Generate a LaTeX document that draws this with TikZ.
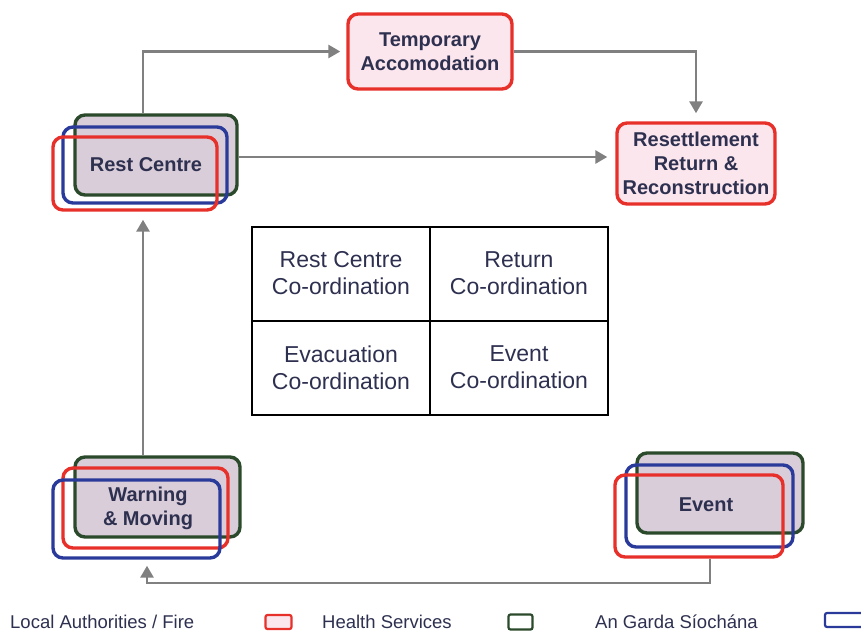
\documentclass[tikz,border=0pt]{standalone}
\usepackage{fontspec}
\setmainfont{Liberation Sans}
\usetikzlibrary{arrows.meta}
\definecolor{rred}{HTML}{E8302A}
\definecolor{ggreen}{HTML}{2B4A2B}
\definecolor{bblue}{HTML}{2A3A9A}
\definecolor{lav}{HTML}{D9CDD9}
\definecolor{pinkf}{HTML}{FBE6EE}
\definecolor{txt}{HTML}{2E3050}
\definecolor{conng}{HTML}{808080}
\tikzset{
  frame/.style={draw, line width=3.4pt, rounded corners=10pt, inner sep=0pt},
  gfr/.style={frame, ggreen, fill=lav},
  bfr/.style={frame, bblue},
  rfr/.style={frame, rred},
  pbox/.style={draw=rred, line width=3.4pt, rounded corners=10pt, fill=pinkf, text=txt, align=center, font=\fontsize{20}{24}\selectfont\bfseries, inner sep=0pt},
  lbl/.style={text=txt, align=center, font=\fontsize{20}{24}\selectfont\bfseries},
  cell/.style={draw=black, line width=2pt, minimum width=178pt, minimum height=94pt, inner sep=0pt, text=txt, align=center, font=\fontsize{23}{27}\selectfont},
  conn/.style={draw=conng, line width=2.8pt, -{Triangle[length=12pt,width=13pt]}},
  leg/.style={text=txt, anchor=base west, font=\fontsize{18.5}{20}\selectfont, inner sep=0pt},
}
\begin{document}
\begin{tikzpicture}[x=1pt,y=-1pt]
\useasboundingbox (0,0) rectangle (861,633);
% Temporary accommodation
\node[pbox, minimum width=164pt, minimum height=75pt] (tmp) at (430,51.5) {Temporary\\Accomodation};
% Resettlement
\node[pbox, minimum width=158pt, minimum height=81pt] (res) at (696,163.5) {Resettlement\\Return \&\\Reconstruction};
% Rest Centre
\node[gfr, minimum width=162pt, minimum height=80pt] (rcg) at (156,155) {};
\node[bfr, minimum width=164pt, minimum height=76pt] (rcb) at (145,165) {};
\node[rfr, minimum width=164pt, minimum height=73pt] (rcr) at (135,173.5) {};
\node[lbl] (rct) at (146,165) {Rest Centre};
% Warning & Moving
\node[gfr, minimum width=165pt, minimum height=80pt] (wmg) at (157.5,497) {};
\node[rfr, minimum width=165pt, minimum height=80pt] (wmr) at (145.5,508) {};
\node[bfr, minimum width=167pt, minimum height=78pt] (wmb) at (136.5,519) {};
\node[lbl] (wmt) at (148,508) {Warning\\\& Moving};
% Event
\node[gfr, minimum width=166pt, minimum height=80pt] (evg) at (720,493) {};
\node[bfr, minimum width=167pt, minimum height=82pt] (evb) at (709.5,506) {};
\node[rfr, minimum width=168pt, minimum height=82pt] (evr) at (699,516) {};
\node[lbl] (evt) at (706,505) {Event};
% Table
\node[cell] (c11) at (341,273.5) {Rest Centre\\Co-ordination};
\node[cell] (c12) at (519,273.5) {Return\\Co-ordination};
\node[cell] (c21) at (341,367.5) {Evacuation\\Co-ordination};
\node[cell] (c22) at (519,367.5) {Event\\Co-ordination};
% Connectors
\draw[conn] ([xshift=-13pt]rcg.north) |- ([xshift=-6pt]tmp.west);
\draw[conn] (tmp.east) -| ([yshift=8pt]res.north);
\draw[conn] ([yshift=-2pt]rcg.east) -- ([yshift=-2pt,xshift=-8pt]rcg.east -| res.west);
\coordinate (up) at ([xshift=-14.5pt]wmg.north);
\draw[conn] (up) -- ([yshift=-8pt]up |- rcr.south);
\coordinate (bot) at (147,583);
\draw[conn] ([xshift=11pt]evr.south) |- (bot) -- ([yshift=-6pt]bot |- wmb.south);
% Legend
\node[leg] (l1) at (10,628) {Local Authorities / Fire};
\node[draw=rred, line width=2.2pt, fill=pinkf, rounded corners=2pt, minimum width=26pt, minimum height=14pt, inner sep=0pt] (k1) at (278.5,622) {};
\node[leg] (l2) at (322,628) {Health Services};
\node[draw=ggreen, line width=2.2pt, fill=white, rounded corners=2pt, minimum width=24pt, minimum height=15pt, inner sep=0pt] (k2) at (520.5,622) {};
\node[leg] (l3) at (595,628) {An Garda Síochána};
\node[draw=bblue, line width=2.2pt, fill=white, rounded corners=2pt, minimum width=40pt, minimum height=14pt, inner sep=0pt] (k3) at (845,620) {};
\end{tikzpicture}
\end{document}
